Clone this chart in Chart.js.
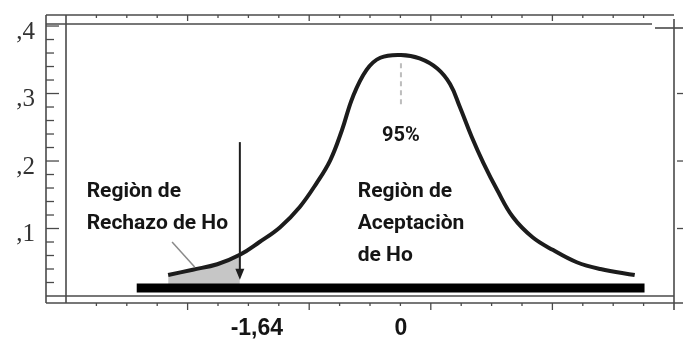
<!DOCTYPE html>
<html>
<head>
<meta charset="utf-8">
<script src="https://cdn.jsdelivr.net/npm/chart.js@4/dist/chart.umd.min.js"></script>
<style>
  html, body { margin: 0; padding: 0; background: #fff; }
  #wrap { width: 683px; height: 345px; }
</style>
</head>
<body>
<div id="wrap"><canvas id="c"></canvas></div>
<script>
// Normal curve: z position, density height.
const curveZ = [-2.37, -2.12, -1.87, -1.64, -1.44, -1.23, -1.03, -0.86, -0.72, -0.60, -0.49, -0.35, -0.21, 0.00,
                0.19, 0.37, 0.50, 0.60, 0.72, 0.84, 0.98, 1.14, 1.34, 1.55, 1.79, 2.03, 2.38];
const curveD = [0.031, 0.039, 0.047, 0.061, 0.080, 0.102, 0.132, 0.167, 0.201, 0.246, 0.295, 0.335, 0.353, 0.357,
                0.352, 0.337, 0.314, 0.280, 0.236, 0.197, 0.157, 0.117, 0.087, 0.068, 0.050, 0.040, 0.031];

// rejection tail (shaded)
const shadeZ = [-2.37, -2.12, -1.87, -1.64];
const shadeD = [0.031, 0.039, 0.047, 0.061];

// thick base bar
const barZ = [-2.69, 2.48];
const barD = [0.012, 0.012];

const criticalZ = -1.64;
const yTickValues = [0.1, 0.2, 0.3, 0.4];
const yTickLabels = [',1', ',2', ',3', ',4'];
const xLabelValues = [-1.64, 0];
const xLabels = ['-1,64', '0'];
const peakLabel = '95%';
const rejectLabel = ['Regiòn de', 'Rechazo de Ho'];
const acceptLabel = ['Regiòn de', 'Aceptaciòn', 'de Ho'];

const pts = (xs, ys) => xs.map((x, i) => ({ x, y: ys[i] }));

function seg(ctx, x1, y1, x2, y2) {
  ctx.beginPath(); ctx.moveTo(x1, y1); ctx.lineTo(x2, y2); ctx.stroke();
}

// the double-line frame of the scanned plot, with its tick marks
const framePlugin = {
  id: 'frame',
  beforeDatasetsDraw(chart) {
    const { ctx, chartArea: a, scales: { y, xf } } = chart;
    const outerL = a.left - 20, outerT = a.top - 9, outerB = a.bottom + 7;
    ctx.save();
    ctx.strokeStyle = '#4a4a4a';
    ctx.lineWidth = 1.6;
    seg(ctx, outerL, outerT, a.right, outerT);
    seg(ctx, outerL, a.top, a.right - 22, a.top);
    seg(ctx, a.right - 19, a.top + 4, a.right + 9, a.top + 4);
    seg(ctx, outerL, a.bottom, a.right, a.bottom);
    seg(ctx, outerL, outerB, a.right + 9, outerB);
    seg(ctx, outerL, outerT, outerL, outerB);
    seg(ctx, a.left, outerT, a.left, outerB);
    seg(ctx, a.right, outerT + 4, a.right, outerB + 7);

    ctx.lineWidth = 1.3;
    for (let k = 1; k <= 20; k++) {
      const py = y.getPixelForValue(k * 0.02);
      const major = k % 5 === 0;
      seg(ctx, outerL, py, outerL + (major ? 13 : 8), py);
      if (major && k < 20) seg(ctx, a.right + 3, py, a.right + 9, py);
    }
    for (let k = 1; k < 20; k++) {
      const px = xf.getPixelForValue(k / 4);
      const major = k % 4 === 0;
      seg(ctx, px, outerT, px, outerT + (major ? 6 : 3));
      seg(ctx, px, outerB, px, outerB + (major ? 7 : 3));
    }
    ctx.restore();
  }
};

const notesPlugin = {
  id: 'notes',
  afterDatasetsDraw(chart) {
    const { ctx, chartArea: a, scales: { x, y } } = chart;
    ctx.save();

    // dashed centre line under the peak
    ctx.strokeStyle = '#bdbdbd';
    ctx.lineWidth = 2;
    ctx.setLineDash([5, 4]);
    seg(ctx, x.getPixelForValue(0), y.getPixelForValue(0.345), x.getPixelForValue(0), y.getPixelForValue(0.28));
    ctx.setLineDash([]);

    // pointer from the label to the shaded tail
    ctx.strokeStyle = '#8a8a8a';
    ctx.lineWidth = 1.5;
    seg(ctx, x.getPixelForValue(-2.33), y.getPixelForValue(0.080), x.getPixelForValue(-2.10), y.getPixelForValue(0.043));

    // arrow at the critical value
    const ax = x.getPixelForValue(criticalZ);
    const tip = y.getPixelForValue(0.024);
    ctx.strokeStyle = '#1e1e1e';
    ctx.fillStyle = '#1e1e1e';
    ctx.lineWidth = 2;
    seg(ctx, ax, y.getPixelForValue(0.228), ax, tip - 6);
    ctx.beginPath();
    ctx.moveTo(ax, tip); ctx.lineTo(ax - 4.5, tip - 11); ctx.lineTo(ax + 4.5, tip - 11);
    ctx.closePath(); ctx.fill();

    // text
    ctx.fillStyle = '#151515';
    ctx.textBaseline = 'middle';
    ctx.textAlign = 'left';
    ctx.font = 'bold 21px Roboto, "Liberation Sans", sans-serif';
    const ry = y.getPixelForValue(0.155);
    rejectLabel.forEach((t, i) => ctx.fillText(t, x.getPixelForValue(-3.20), ry + i * 32));
    acceptLabel.forEach((t, i) => ctx.fillText(t, x.getPixelForValue(-0.44), ry + i * 32));

    ctx.textAlign = 'center';
    ctx.font = 'bold 20px Roboto, "Liberation Sans", sans-serif';
    ctx.fillText(peakLabel, x.getPixelForValue(0), y.getPixelForValue(0.237));

    ctx.font = 'bold 23px "Liberation Sans", Arial, sans-serif';
    xLabels.forEach((t, i) => {
      const nudge = i === 0 ? 17 : 0;
      ctx.fillText(t, x.getPixelForValue(xLabelValues[i]) + nudge, a.bottom + 33);
    });
    ctx.restore();
  }
};

new Chart(document.getElementById('c'), {
  type: 'line',
  data: {
    datasets: [
      { data: pts(barZ, barD), borderColor: '#000', borderWidth: 9, borderCapStyle: 'butt', pointRadius: 0, order: 0 },
      { data: pts(curveZ, curveD), borderColor: '#1c1c1c', borderWidth: 4, pointRadius: 0, tension: 0.4, order: 1 },
      { data: pts(shadeZ, shadeD), borderWidth: 0, borderColor: 'rgba(0,0,0,0)', backgroundColor: '#c6c6c6',
        fill: { value: 0.015 }, pointRadius: 0, tension: 0.4, order: 2 }
    ]
  },
  options: {
    responsive: true,
    maintainAspectRatio: false,
    animation: false,
    events: [],
    layout: { padding: { top: 24, bottom: 49, right: 9, left: 0 } },
    plugins: { legend: { display: false }, tooltip: { enabled: false } },
    scales: {
      x: { type: 'linear', min: -3.41, max: 2.78, display: false },
      xf: { type: 'linear', axis: 'x', min: 0, max: 5, display: false },
      y: {
        type: 'linear', min: 0, max: 0.403,
        afterBuildTicks: (s) => { s.ticks = yTickValues.map(v => ({ value: v })); },
        afterFit: (s) => { s.width = 66; s.paddingTop = 0; s.paddingBottom = 0; },
        grid: { display: false, drawTicks: false },
        border: { display: false },
        ticks: {
          callback: (v) => yTickLabels[yTickValues.indexOf(v)] || '',
          padding: 31,
          labelOffset: 6,
          color: '#333',
          font: { family: '"Liberation Serif", "Times New Roman", serif', size: 25 }
        }
      }
    }
  },
  plugins: [framePlugin, notesPlugin]
});
</script>
</body>
</html>
